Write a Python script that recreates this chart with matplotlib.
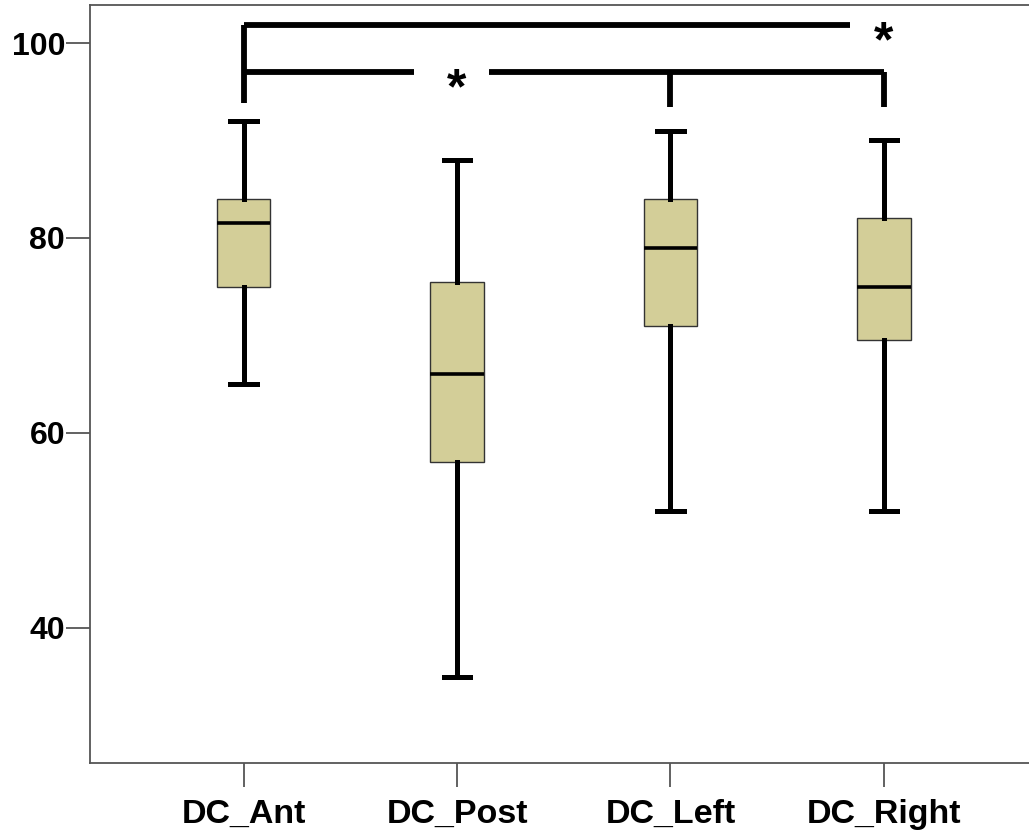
import matplotlib.pyplot as plt

plt.rcParams['font.family'] = ['Liberation Sans', 'DejaVu Sans']

# Box summary for each region (whisker low, Q1, median, Q3, whisker high)
groups = ['DC_Ant', 'DC_Post', 'DC_Left', 'DC_Right']
whisker_low = [65, 35, 52, 52]
q1 = [75, 57, 71, 69.5]
medians = [81.5, 66, 79, 75]
q3 = [84, 75.5, 84, 82]
whisker_high = [92, 88, 91, 90]

stats = []
for name, lo, a, m, b, hi in zip(groups, whisker_low, q1, medians, q3, whisker_high):
    stats.append({'label': name, 'whislo': lo, 'q1': a, 'med': m, 'q3': b, 'whishi': hi, 'fliers': []})

fig = plt.figure(figsize=(10.29, 8.32), dpi=100)
ax = fig.add_axes([0.0875, 0.083, 0.9125, 0.911])

positions = [1, 2, 3, 4]
ax.bxp(stats, positions=positions, widths=0.25, patch_artist=True,
       boxprops=dict(facecolor='#d3ce98', edgecolor='#333333', linewidth=1.0),
       medianprops=dict(color='black', linewidth=2.6),
       whiskerprops=dict(color='black', linewidth=3.6),
       capprops=dict(color='black', linewidth=3.6),
       capwidths=0.125)

# significance brackets
lw = 4.2
top_y = 101.85
mid_y = 97.0
drop_ant = 93.8
drop_other = 93.4
ax.plot([1, 1], [drop_ant, top_y], color='black', lw=lw, solid_capstyle='butt')
ax.plot([1, 3.84], [top_y, top_y], color='black', lw=lw, solid_capstyle='butt')
ax.text(4.0, top_y - 1.9, '*', fontsize=36, fontweight='bold', ha='center', va='center')

ax.plot([1, 1.8], [mid_y, mid_y], color='black', lw=lw, solid_capstyle='butt')
ax.plot([2.15, 4], [mid_y, mid_y], color='black', lw=lw, solid_capstyle='butt')
ax.plot([3, 3], [drop_other, mid_y], color='black', lw=lw, solid_capstyle='butt')
ax.plot([4, 4], [drop_other, mid_y], color='black', lw=lw, solid_capstyle='butt')
ax.text(2.0, mid_y - 1.9, '*', fontsize=36, fontweight='bold', ha='center', va='center')

ax.set_xlim(0.28, 4.68)
ax.set_ylim(26.15, 103.9)
ax.set_yticks([40, 60, 80, 100])
ax.set_xticks(positions)
ax.set_xticklabels(groups)

for side in ['left', 'bottom', 'top']:
    ax.spines[side].set_color('#555555')
    ax.spines[side].set_linewidth(1.3)
ax.spines['right'].set_visible(False)

ax.tick_params(axis='both', length=17, width=1.3, color='#555555')
ax.tick_params(axis='y', pad=1, labelsize=23)
ax.tick_params(axis='x', pad=9, labelsize=24.5)
for lab in ax.get_xticklabels() + ax.get_yticklabels():
    lab.set_fontweight('bold')

fig.savefig('out.png', dpi=100)
